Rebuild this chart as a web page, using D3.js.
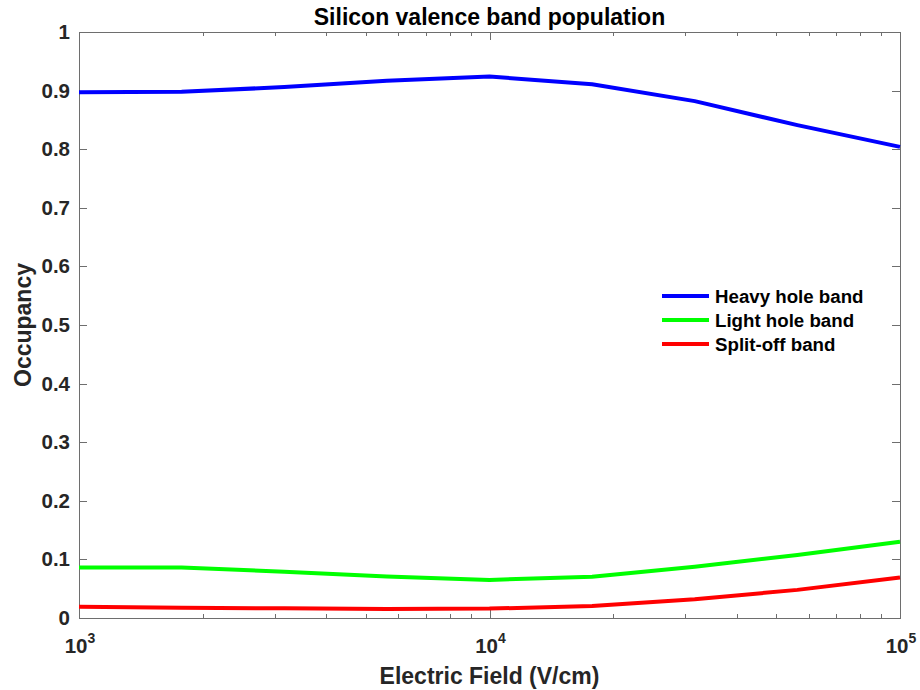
<!DOCTYPE html>
<html>
<head>
<meta charset="utf-8">
<script src="https://cdn.jsdelivr.net/npm/d3@7"></script>
<style>
  body { margin: 0; background: #fff; }
  svg text { font-family: "Liberation Sans", Arial, sans-serif; font-weight: bold; }
</style>
</head>
<body>
<svg id="chart" width="920" height="690"></svg>
<script>
// Electric field samples (V/cm), quarter-decade steps
const fields = [1e3, 1.778e3, 3.162e3, 5.623e3, 1e4, 1.778e4, 3.162e4, 5.623e4, 1e5];
// Band occupancies
const heavyHole = [0.897, 0.898, 0.906, 0.917, 0.924, 0.911, 0.882, 0.841, 0.804];
const lightHole = [0.086, 0.086, 0.079, 0.071, 0.065, 0.0705, 0.0876, 0.1075, 0.130];
const splitOff  = [0.0193, 0.0176, 0.0165, 0.0155, 0.016, 0.0205, 0.032, 0.048, 0.069];

const seriesNames  = ["Heavy hole band", "Light hole band", "Split-off band"];
const seriesColors = ["#0000ff", "#00ff00", "#ff0000"];
const seriesValues = [heavyHole, lightHole, splitOff];

const yTicks = [0, 0.1, 0.2, 0.3, 0.4, 0.5, 0.6, 0.7, 0.8, 0.9, 1];
const xMajor = [1e3, 1e4, 1e5];

const svg = d3.select("#chart");
const m = { left: 79, right: 900, top: 32, bottom: 618 };

const x = d3.scaleLog().domain([1e3, 1e5]).range([m.left, m.right]);
const y = d3.scaleLinear().domain([0, 1]).range([m.bottom, m.top]);

const axisColor = "#6e6e6e";
const textColor = "#262626";

// minor log ticks 2..9 per decade
const xMinor = [];
[1e3, 1e4].forEach(d => { for (let k = 2; k <= 9; k++) xMinor.push(d * k); });

const g = svg.append("g");

// box
g.append("rect")
  .attr("x", m.left + 0.5).attr("y", m.top + 0.5)
  .attr("width", m.right - m.left).attr("height", m.bottom - m.top)
  .attr("fill", "none").attr("stroke", axisColor).attr("stroke-width", 1);

// y ticks (inside, both sides)
yTicks.forEach(t => {
  const yy = Math.round(y(t)) + 0.5;
  g.append("line").attr("x1", m.left).attr("x2", m.left + 8).attr("y1", yy).attr("y2", yy)
    .attr("stroke", axisColor);
  g.append("line").attr("x1", m.right - 8).attr("x2", m.right).attr("y1", yy).attr("y2", yy)
    .attr("stroke", axisColor);
  g.append("text").attr("x", m.left - 9).attr("y", y(t) + 7)
    .attr("text-anchor", "end").attr("font-size", 20.5).attr("fill", textColor)
    .text(d3.format("~g")(t));
});

// x ticks
xMajor.forEach(t => {
  const xx = Math.round(x(t)) + 0.5;
  g.append("line").attr("x1", xx).attr("x2", xx).attr("y1", m.bottom).attr("y2", m.bottom - 8)
    .attr("stroke", axisColor);
  g.append("line").attr("x1", xx).attr("x2", xx).attr("y1", m.top).attr("y2", m.top + 8)
    .attr("stroke", axisColor);
  const exp = Math.round(Math.log10(t));
  const lbl = g.append("text").attr("x", x(t) + 1).attr("y", 653)
    .attr("text-anchor", "middle").attr("font-size", 20.5).attr("fill", textColor);
  lbl.append("tspan").text("10");
  lbl.append("tspan").attr("dy", -10).attr("font-size", 14).text(exp);
});
xMinor.forEach(t => {
  const xx = Math.round(x(t)) + 0.5;
  g.append("line").attr("x1", xx).attr("x2", xx).attr("y1", m.bottom).attr("y2", m.bottom - 4)
    .attr("stroke", axisColor);
  g.append("line").attr("x1", xx).attr("x2", xx).attr("y1", m.top).attr("y2", m.top + 4)
    .attr("stroke", axisColor);
});

// series lines
const line = d3.line().x(d => x(d[0])).y(d => y(d[1]));
seriesValues.forEach((vals, i) => {
  g.append("path")
    .datum(fields.map((f, j) => [f, vals[j]]))
    .attr("d", line)
    .attr("fill", "none")
    .attr("stroke", seriesColors[i])
    .attr("stroke-width", 4)
    .attr("stroke-linejoin", "round");
});

// title and axis labels
svg.append("text").attr("x", (m.left + m.right) / 2).attr("y", 25)
  .attr("text-anchor", "middle").attr("font-size", 23).attr("fill", "#000")
  .text("Silicon valence band population");
svg.append("text").attr("x", (m.left + m.right) / 2).attr("y", 684)
  .attr("text-anchor", "middle").attr("font-size", 23).attr("fill", textColor)
  .text("Electric Field (V/cm)");
svg.append("text")
  .attr("transform", `translate(31,${(m.top + m.bottom) / 2}) rotate(-90)`)
  .attr("text-anchor", "middle").attr("font-size", 23).attr("fill", textColor)
  .text("Occupancy");

// legend
const legend = svg.append("g");
seriesNames.forEach((name, i) => {
  const ly = 296 + i * 24;
  legend.append("line").attr("x1", 662).attr("x2", 709).attr("y1", ly).attr("y2", ly)
    .attr("stroke", seriesColors[i]).attr("stroke-width", 4);
  legend.append("text").attr("x", 715).attr("y", ly + 7)
    .attr("font-size", 18.7).attr("fill", "#000").text(name);
});
</script>
</body>
</html>
